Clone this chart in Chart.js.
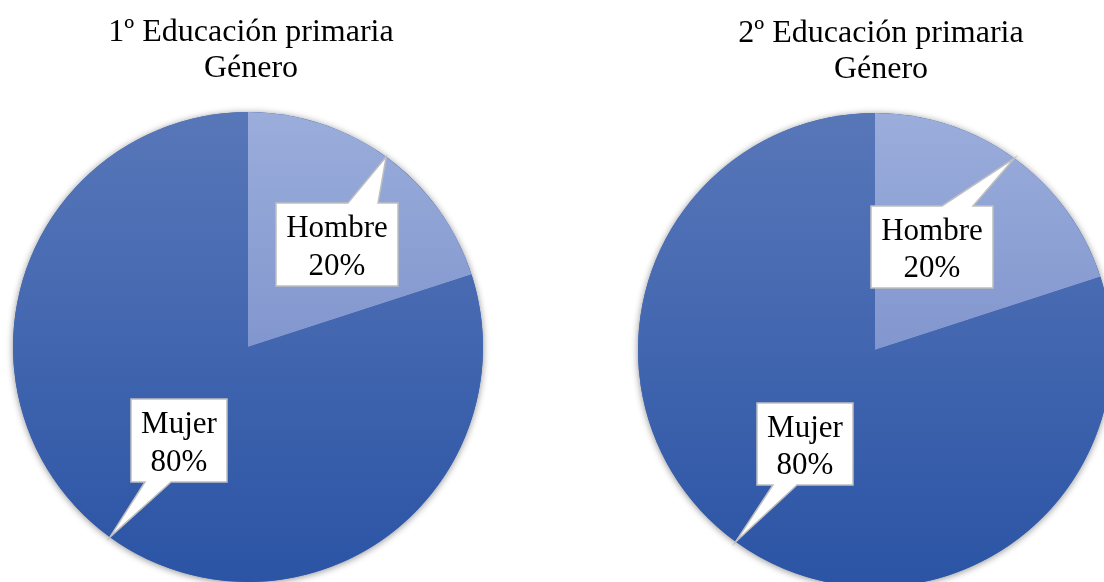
<!DOCTYPE html>
<html>
<head>
<meta charset="utf-8">
<script src="https://cdn.jsdelivr.net/npm/chart.js@4/dist/chart.umd.min.js"></script>
<style>
  html, body { margin: 0; padding: 0; background: #fff; width: 1104px; height: 582px; overflow: hidden; }
  .wrap { position: absolute; top: 0; }
  canvas { display: block; }
</style>
</head>
<body>
<div class="wrap" style="left:0px"><canvas id="c1" width="552" height="700"></canvas></div>
<div class="wrap" style="left:552px"><canvas id="c2" width="600" height="700"></canvas></div>
<script>
// ---- data ----
const categories = ['Hombre', 'Mujer'];
const valuesPrimero = [20, 80];
const valuesSegundo = [20, 80];
const titlePrimero = ['1º Educación primaria', 'Género'];
const titleSegundo = ['2º Educación primaria', 'Género'];

// ---- styles ----
const FONT = '"Liberation Serif", "Times New Roman", serif';
const gradStops = [
  ['#9AADDB', '#6A80C2'],   // Hombre
  ['#5877B9', '#2B54A5']    // Mujer
];

function sliceColor(c) {
  const i = c.dataIndex || 0;
  const area = c.chart.chartArea;
  if (!area) return gradStops[i][0];
  const g = c.chart.ctx.createLinearGradient(0, area.top, 0, area.bottom);
  g.addColorStop(0, gradStops[i][0]);
  g.addColorStop(1, gradStops[i][1]);
  return g;
}

const shadowPlugin = {
  id: 'pieShadow',
  beforeDatasetsDraw(chart) {
    const arc = chart.getDatasetMeta(0).data[0];
    if (!arc) return;
    const ctx = chart.ctx;
    ctx.save();
    ctx.shadowColor = 'rgba(0,0,0,0.45)';
    ctx.shadowBlur = 7;
    ctx.shadowOffsetX = 0;
    ctx.shadowOffsetY = 1;
    ctx.fillStyle = '#3A61B0';
    ctx.beginPath();
    ctx.arc(arc.x, arc.y, arc.outerRadius, 0, Math.PI * 2);
    ctx.fill();
    ctx.restore();
  }
};

const titlePlugin = {
  id: 'topTitle',
  afterDraw(chart, args, o) {
    const ctx = chart.ctx;
    ctx.save();
    ctx.font = o.size + 'px ' + FONT;
    ctx.fillStyle = '#000';
    ctx.textAlign = 'center';
    ctx.textBaseline = 'alphabetic';
    o.lines.forEach((t, k) => ctx.fillText(t, o.x, o.y + k * o.lineHeight));
    ctx.restore();
  }
};

const calloutPlugin = {
  id: 'callout',
  afterDatasetsDraw(chart, args, o) {
    const ctx = chart.ctx;
    const meta = chart.getDatasetMeta(0);
    const data = chart.data.datasets[0].data;
    const labels = chart.data.labels;
    const total = data.reduce((a, b) => a + b, 0);
    meta.data.forEach((arc, i) => {
      const p = arc.getProps(['x', 'y', 'startAngle', 'endAngle', 'outerRadius'], true);
      const mid = (p.startAngle + p.endAngle) / 2;
      const tx = p.x + Math.cos(mid) * p.outerRadius;
      const ty = p.y + Math.sin(mid) * p.outerRadius;
      const b = o.boxes[i];
      const l = p.x + b.dx - b.w / 2, t = p.y + b.dy - b.h / 2;
      const r = l + b.w, bt = t + b.h;
      ctx.save();
      ctx.beginPath();
      if (b.side === 'top') {
        ctx.moveTo(l, t);
        ctx.lineTo(l + b.n0, t);
        ctx.lineTo(tx, ty);
        ctx.lineTo(l + b.n1, t);
        ctx.lineTo(r, t);
        ctx.lineTo(r, bt);
        ctx.lineTo(l, bt);
      } else {
        ctx.moveTo(l, t);
        ctx.lineTo(r, t);
        ctx.lineTo(r, bt);
        ctx.lineTo(l + b.n1, bt);
        ctx.lineTo(tx, ty);
        ctx.lineTo(l + b.n0, bt);
        ctx.lineTo(l, bt);
      }
      ctx.closePath();
      ctx.fillStyle = '#fff';
      ctx.fill();
      ctx.lineWidth = 1.5;
      ctx.strokeStyle = '#BFBFBF';
      ctx.lineJoin = 'miter';
      ctx.stroke();
      ctx.font = o.size + 'px ' + FONT;
      ctx.fillStyle = '#000';
      ctx.textAlign = 'center';
      ctx.textBaseline = 'alphabetic';
      const cx = p.x + b.dx, cy = p.y + b.dy;
      ctx.fillText(labels[i], cx, cy - 7.5);
      ctx.fillText(Math.round(data[i] / total * 100) + '%', cx, cy + 30);
      ctx.restore();
    });
  }
};

function makePie(id, values, title, pad, titlePos, boxes) {
  new Chart(document.getElementById(id), {
    type: 'pie',
    data: {
      labels: categories,
      datasets: [{
        data: values,
        backgroundColor: sliceColor,
        borderWidth: 0,
        hoverOffset: 0,
        offset: 0
      }]
    },
    options: {
      responsive: false,
      animation: false,
      events: [],
      layout: { padding: pad },
      plugins: {
        legend: { display: false },
        tooltip: { enabled: false },
        title: { display: false },
        topTitle: Object.assign({ lines: title, size: 32, lineHeight: 36 }, titlePos),
        callout: { size: 31, boxes: boxes }
      }
    },
    plugins: [shadowPlugin, calloutPlugin, titlePlugin]
  });
}

makePie('c1', valuesPrimero, titlePrimero,
  { left: 13, top: 112, right: 69, bottom: 118 },
  { x: 251, y: 41 },
  [
    { dx: 89, dy: -102.5, w: 122, h: 83, side: 'top', n0: 72, n1: 102 },
    { dx: -69, dy: 93.5, w: 96, h: 83, side: 'bottom', n0: 14, n1: 40 }
  ]);

makePie('c2', valuesSegundo, titleSegundo,
  { left: 86, top: 113, right: 40, bottom: 113 },
  { x: 329, y: 42 },
  [
    { dx: 57, dy: -103, w: 122, h: 82, side: 'top', n0: 71, n1: 102 },
    { dx: -70, dy: 94, w: 96, h: 82, side: 'bottom', n0: 16, n1: 40 }
  ]);
</script>
</body>
</html>
